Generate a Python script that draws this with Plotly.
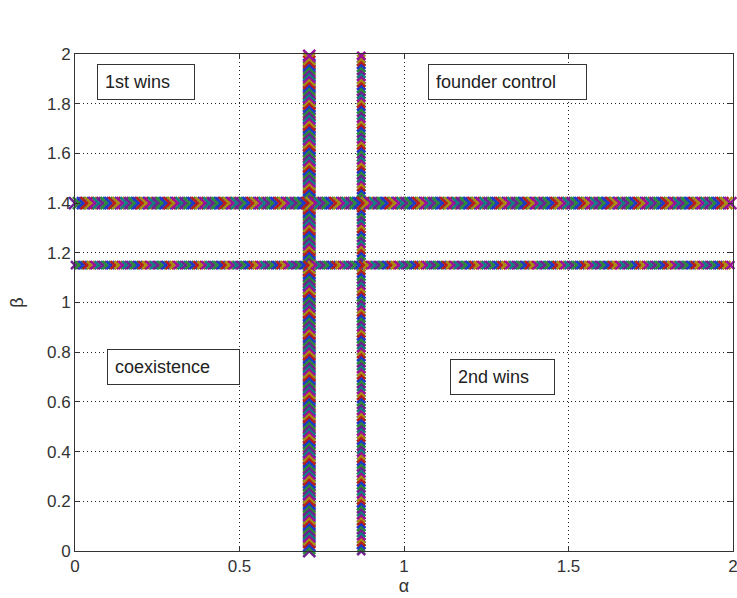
import numpy as np
import plotly.graph_objects as go

# Region boundaries
alpha_bounds = [0.712, 0.870]      # vertical lines at alpha
alpha_widths = [12, 8]             # marker size (visual thickness)
beta_bounds = [1.40, 1.15]         # horizontal lines at beta
beta_widths = [12, 8]

# Region labels
labels = ["1st wins", "founder control", "coexistence", "2nd wins"]
label_x = [0.067, 1.073, 0.097, 1.14]
label_y = [1.887, 1.887, 0.74, 0.70]
label_w = [82, 143, 117, 89]

tick_vals = [0, 0.2, 0.4, 0.6, 0.8, 1, 1.2, 1.4, 1.6, 1.8, 2]
tick_text_y = ["0", "0.2", "0.4", "0.6", "0.8", "1", "1.2", "1.4", "1.6", "1.8", "2"]
x_tick_vals = [0, 0.5, 1, 1.5, 2]
x_tick_text = ["0", "0.5", "1", "1.5", "2"]

colors = ["#70208f", "#2a8a3a", "#1f38c8", "#b81c1c", "#a88c10", "#9a109a", "#107f80"]

FONT = "Liberation Sans, Arial"

fig = go.Figure()

# sampling positions along the boundaries (rendering only)
base = np.arange(0, 2.0001, 0.012)
pt_colors = [colors[k % len(colors)] for k in range(len(base))]

for a, w in zip(alpha_bounds, alpha_widths):
    fig.add_trace(go.Scatter(
        x=[a] * len(base), y=base, mode="markers",
        marker=dict(symbol="x-thin-open", size=w, color=pt_colors,
                    line=dict(width=2.5, color=pt_colors)),
        showlegend=False, hoverinfo="skip", cliponaxis=False))
for b, w in zip(beta_bounds, beta_widths):
    fig.add_trace(go.Scatter(
        x=base, y=[b] * len(base), mode="markers",
        marker=dict(symbol="x-thin-open", size=w, color=pt_colors,
                    line=dict(width=2.5, color=pt_colors)),
        showlegend=False, hoverinfo="skip", cliponaxis=False))

for t, x, y, w in zip(labels, label_x, label_y, label_w):
    fig.add_annotation(x=x, y=y, xref="x", yref="y", text=t, showarrow=False,
                       xanchor="left", yanchor="middle", width=w, align="left",
                       font=dict(family=FONT, size=18, color="#222"),
                       bordercolor="#333", borderwidth=1, borderpad=7,
                       bgcolor="white")

axis_common = dict(
    showline=True, linecolor="#333", linewidth=1, mirror="ticks",
    ticks="inside", ticklen=5, tickcolor="#333",
    showgrid=True, gridcolor="#222", griddash="1px,3px", gridwidth=1,
    zeroline=False, ticklabeloverflow="allow", automargin=False,
    tickfont=dict(family=FONT, size=17, color="#333"),
)

fig.update_xaxes(range=[0, 2], tickvals=x_tick_vals, ticktext=x_tick_text,
                 title=dict(text="α", font=dict(family=FONT, size=18, color="#333"), standoff=2),
                 **axis_common)
fig.update_yaxes(range=[0, 2], tickvals=tick_vals, ticktext=tick_text_y,
                 title=dict(text="β", font=dict(family=FONT, size=18, color="#333"), standoff=18),
                 **axis_common)

fig.update_layout(
    width=737, height=598,
    margin=dict(l=75, r=4, t=54, b=47),
    paper_bgcolor="white", plot_bgcolor="white",
    showlegend=False,
)

fig.write_html("out.html")
